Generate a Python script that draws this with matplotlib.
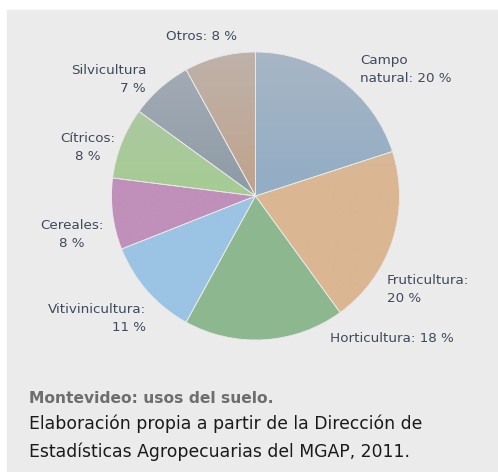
import numpy as np
import matplotlib
matplotlib.use("Agg")
import matplotlib.pyplot as plt
from matplotlib.colors import to_rgb

# data
labels = ["Campo\nnatural: 20 %", "Fruticultura:\n20 %", "Horticultura: 18 %",
          "Vitivinicultura:\n11 %", "Cereales:\n8 %", "Cítricos:\n8 %",
          "Silvicultura\n7 %", "Otros: 8 %"]
shares = [20, 20, 18, 11, 8, 8, 7, 8]
colors = ["#93adc4", "#dbb692", "#8db88f", "#9bc3e4",
          "#c08fba", "#a6cb94", "#8f9ca7", "#c0a48e"]

W, H = 498, 472
fig = plt.figure(figsize=(W / 100, H / 100), dpi=100)
fig.patch.set_facecolor("white")
ax = fig.add_axes([0, 0, 1, 1])

# grey panel
ax.add_patch(plt.Rectangle((7, 0), W - 7, H - 10, color="#ebebeb", zorder=0))

cx, cy, r = 255.5, H - 196, 144
wedges, _ = ax.pie(shares, startangle=90, counterclock=False, center=(cx, cy),
                   radius=r, colors=colors, frame=True,
                   wedgeprops=dict(edgecolor="#e8e8e8", linewidth=0.6))
ax.set_xlim(0, W)
ax.set_ylim(0, H)
ax.axis("off")

# vertical gradient inside each wedge, lighter at the top
t = np.linspace(0, 1, 200)[:, None]
for w, c in zip(wedges, colors):
    base = np.array(to_rgb(c))
    top = base + (np.array([0.74, 0.75, 0.78]) - base) * 0.5
    img = np.zeros((200, 2, 3))
    for k in range(3):
        img[:, :, k] = top[k] + (base[k] - top[k]) * np.clip(t * 2.2, 0, 1)
    im = ax.imshow(img, extent=(cx - r, cx + r, cy - r, cy + r), origin="upper",
                   aspect="auto", zorder=w.get_zorder() + 0.1, interpolation="bilinear")
    im.set_clip_path(w)
    w.set_facecolor("none")
    w.set_zorder(w.get_zorder() + 0.2)

txt = "#3d4a5c"
fs = 9.7
# label anchor in pixels (x, baseline of last line from top), alignment
pos = [(360, 82, "left"), (387, 302, "left"), (330, 342, "left"),
       (146, 331, "right"), (72, 247, "center"), (88, 160, "center"),
       (146, 92, "right"), (201, 40, "center")]
for lab, (x, y, ha) in zip(labels, pos):
    ax.text(x, H - y, lab, ha=ha, va="baseline", fontsize=fs, color=txt,
            linespacing=1.5, multialignment=ha)

ax.text(29, H - 403, "Montevideo: usos del suelo.", fontsize=11.2,
        fontweight="bold", color="#6e6e6e", ha="left", va="baseline")
ax.text(29, H - 429, "Elaboración propia a partir de la Dirección de",
        fontsize=12.4, color="#1a1a1a", ha="left", va="baseline")
ax.text(29, H - 457, "Estadísticas Agropecuarias del MGAP, 2011.",
        fontsize=12.4, color="#1a1a1a", ha="left", va="baseline")

fig.savefig("out.png", dpi=100, facecolor="white")
